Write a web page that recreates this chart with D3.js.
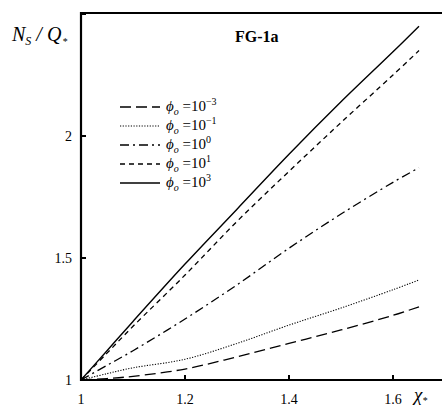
<!DOCTYPE html>
<html><head><meta charset="utf-8">
<script src="https://cdn.jsdelivr.net/npm/d3@7"></script>
<style>body{margin:0;background:#fff} text{font-family:"Liberation Serif","Times New Roman",serif}</style>
</head><body><svg id="c" width="442" height="408"></svg>
<script>
const xValues = [1.0, 1.05, 1.1, 1.2, 1.3, 1.4, 1.5, 1.6, 1.65];
const phiMinus3 = [1.0, 1.006, 1.015, 1.045, 1.095, 1.15, 1.205, 1.265, 1.30];
const phiMinus1 = [1.0, 1.026, 1.05, 1.085, 1.15, 1.225, 1.295, 1.37, 1.41];
const phi0 = [1.0, 1.06, 1.12, 1.25, 1.39, 1.54, 1.68, 1.81, 1.87];
const phi1 = [1.0, 1.11, 1.22, 1.43, 1.65, 1.855, 2.055, 2.25, 2.35];
const phi3 = [1.0, 1.12, 1.24, 1.475, 1.70, 1.925, 2.14, 2.345, 2.45];
const seriesExp = ["\u22123", "\u22121", "0", "1", "3"];
const dashes = ["11,5", "1.2,1.5", "9,4,2,4", "5,4", null];
const widths = [1.3, 1.1, 1.3, 1.3, 1.4];
const xTicks = [1, 1.2, 1.4, 1.6];
const yTicks = [1, 1.5, 2];
const yTickLabels = ["1", "1.5", "2"];
const xTickLabels = ["1", "1.2", "1.4", "1.6"];

const allSeries = [phiMinus3, phiMinus1, phi0, phi1, phi3];
const svg = d3.select("#c");
const x = d3.scaleLinear().domain([1, 1.7]).range([81, 445]);
const y = d3.scaleLinear().domain([1, 2.504]).range([380, 13]);

svg.append("line").attr("x1", 81).attr("x2", 442).attr("y1", y(2.504)).attr("y2", y(2.504)).attr("stroke", "#000").attr("stroke-width", 2);
svg.append("line").attr("x1", 81).attr("x2", 442).attr("y1", 380).attr("y2", 380).attr("stroke", "#000").attr("stroke-width", 2.2);
svg.append("line").attr("x1", 81).attr("x2", 81).attr("y1", 12).attr("y2", 381).attr("stroke", "#000").attr("stroke-width", 2.2);

svg.selectAll(".xt").data(xTicks.slice(1)).join("line")
  .attr("x1", d => x(d)).attr("x2", d => x(d)).attr("y1", 380).attr("y2", 375)
  .attr("stroke", "#000").attr("stroke-width", 2);
svg.selectAll(".yt").data(yTicks.slice(1).concat([2.5])).join("line")
  .attr("x1", 81).attr("x2", 86).attr("y1", d => y(d)).attr("y2", d => y(d))
  .attr("stroke", "#000").attr("stroke-width", 2);

svg.selectAll(".xl").data(xTicks).join("text")
  .attr("x", d => x(d)).attr("y", 404).attr("text-anchor", "middle")
  .attr("font-size", 14).text((d, i) => xTickLabels[i]);
svg.selectAll(".yl").data(yTicks).join("text")
  .attr("x", 72).attr("y", d => y(d) + 5).attr("text-anchor", "end")
  .attr("font-size", 14).text((d, i) => yTickLabels[i]);

const yt = svg.append("text").attr("x", 12).attr("y", 41).attr("font-size", 20).attr("font-style", "italic");
yt.append("tspan").text("N");
yt.append("tspan").attr("font-size", 12).attr("dy", 4).text("S");
yt.append("tspan").attr("dy", -4).text(" / Q");
yt.append("tspan").attr("font-size", 10).attr("dy", 4).attr("dx", 1).text("*");

const xt = svg.append("text").attr("x", 414).attr("y", 401).attr("font-size", 19).attr("font-style", "italic");
xt.append("tspan").text("\u03c7");
xt.append("tspan").attr("font-size", 10).attr("dy", 3).text("*");

svg.append("text").attr("x", 235).attr("y", 42).attr("font-size", 16).attr("font-weight", "bold").text("FG-1a");

const line = d3.line().x((d, i) => x(xValues[i])).y(d => y(d)).curve(d3.curveCatmullRom);
allSeries.forEach((s, k) => {
  svg.append("path").attr("d", line(s)).attr("fill", "none").attr("stroke", "#000")
    .attr("stroke-width", widths[k]).attr("stroke-dasharray", dashes[k]);
});

const legY = [107, 126, 145, 164, 183];
seriesExp.forEach((e, k) => {
  const yy = legY[k];
  svg.append("line").attr("x1", 120).attr("x2", 160).attr("y1", yy).attr("y2", yy)
    .attr("stroke", "#000").attr("stroke-width", widths[k]).attr("stroke-dasharray", dashes[k]);
  const t = svg.append("text").attr("x", 166).attr("y", yy + 4).attr("font-size", 15);
  t.append("tspan").attr("font-style", "italic").text("\u03d5");
  t.append("tspan").attr("font-style", "italic").attr("font-size", 10).attr("dy", 4).text("o");
  t.append("tspan").attr("dy", -4).text(" =10");
  t.append("tspan").attr("font-size", 10).attr("dy", -6).text(e);
});
</script></body></html>
